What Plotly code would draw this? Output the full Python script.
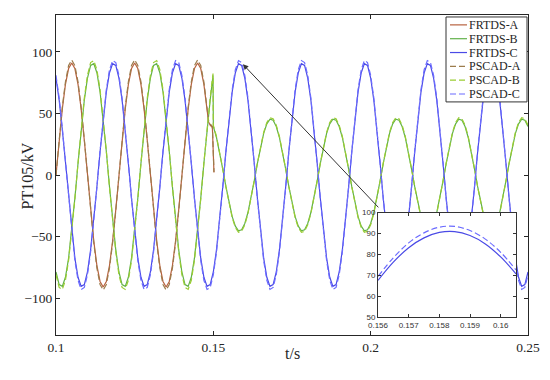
import plotly.graph_objects as go

# ---------------- data ----------------
# sample times in ms
tA_ms = list(range(100, 149)) + [148.5, 149.0, 149.7, 150.2]
tB_ms = list(range(100, 150)) + [149.9] + list(range(150, 251))
tC_ms = list(range(100, 251))

frtds_a = [
    0.0, 28.1, 53.5, 73.6, 86.5, 91.0, 86.5, 73.6, 53.5, 28.1, 0.0, -28.1, -53.5, -73.6, -86.5, -91.0, -86.5, -73.6, -53.5, -28.1,
    0.0, 28.1, 53.5, 73.6, 86.5, 91.0, 86.5, 73.6, 53.5, 28.1, 0.0, -28.1, -53.5, -73.6, -86.5, -91.0, -86.5, -73.6, -53.5, -28.1,
    0.0, 28.1, 53.5, 73.6, 86.5, 91.0, 86.5, 73.6, 53.5,
    43.0, 40.5, 38.5, 2.0]
pscad_a = [
    0.0, 28.9, 55.0, 75.6, 88.9, 93.5, 88.9, 75.6, 55.0, 28.9, 0.0, -28.9, -55.0, -75.6, -88.9, -93.5, -88.9, -75.6, -55.0, -28.9,
    0.0, 28.9, 55.0, 75.6, 88.9, 93.5, 88.9, 75.6, 55.0, 28.9, 0.0, -28.9, -55.0, -75.6, -88.9, -93.5, -88.9, -75.6, -55.0, -28.9,
    0.0, 28.9, 55.0, 75.6, 88.9, 93.5, 88.9, 75.6, 55.0,
    44.0, 41.5, 39.5, 2.5]

frtds_b = [
    -78.8, -89.0, -90.5, -83.1, -67.6, -45.5, -18.9, 9.5, 37.0, 60.9, 78.8, 89.0, 90.5, 83.1, 67.6, 45.5, 18.9, -9.5, -37.0, -60.9,
    -78.8, -89.0, -90.5, -83.1, -67.6, -45.5, -18.9, 9.5, 37.0, 60.9, 78.8, 89.0, 90.5, 83.1, 67.6, 45.5, 18.9, -9.5, -37.0, -60.9,
    -78.8, -89.0, -90.5, -83.1, -67.6, -45.5, -18.9, 9.5, 37.0, 60.9,
    81.0,
    39.4, 30.5, 18.5, 4.8, -9.5, -22.8, -33.8, -41.6, -45.3, -44.5,
    -39.4, -30.5, -18.5, -4.8, 9.5, 22.8, 33.8, 41.6, 45.3, 44.5, 39.4, 30.5, 18.5, 4.8, -9.5, -22.8, -33.8, -41.6, -45.3, -44.5,
    -39.4, -30.5, -18.5, -4.8, 9.5, 22.8, 33.8, 41.6, 45.3, 44.5, 39.4, 30.5, 18.5, 4.8, -9.5, -22.8, -33.8, -41.6, -45.3, -44.5,
    -39.4, -30.5, -18.5, -4.8, 9.5, 22.8, 33.8, 41.6, 45.3, 44.5, 39.4, 30.5, 18.5, 4.8, -9.5, -22.8, -33.8, -41.6, -45.3, -44.5,
    -39.4, -30.5, -18.5, -4.8, 9.5, 22.8, 33.8, 41.6, 45.3, 44.5, 39.4, 30.5, 18.5, 4.8, -9.5, -22.8, -33.8, -41.6, -45.3, -44.5,
    -39.4, -30.5, -18.5, -4.8, 9.5, 22.8, 33.8, 41.6, 45.3, 44.5, 39.4]
pscad_b = [
    -81.0, -91.4, -93.0, -85.5, -69.5, -46.8, -19.4, 9.8, 38.1, 62.6, 81.0, 91.4, 93.0, 85.5, 69.5, 46.8, 19.4, -9.8, -38.1, -62.6,
    -81.0, -91.4, -93.0, -85.5, -69.5, -46.8, -19.4, 9.8, 38.1, 62.6, 81.0, 91.4, 93.0, 85.5, 69.5, 46.8, 19.4, -9.8, -38.1, -62.6,
    -81.0, -91.4, -93.0, -85.5, -69.5, -46.8, -19.4, 9.8, 38.1, 62.6,
    82.5,
    40.5, 31.3, 19.0, 4.9, -9.7, -23.4, -34.7, -42.7, -46.5, -45.7,
    -40.5, -31.3, -19.0, -4.9, 9.7, 23.4, 34.7, 42.7, 46.5, 45.7, 40.5, 31.3, 19.0, 4.9, -9.7, -23.4, -34.7, -42.7, -46.5, -45.7,
    -40.5, -31.3, -19.0, -4.9, 9.7, 23.4, 34.7, 42.7, 46.5, 45.7, 40.5, 31.3, 19.0, 4.9, -9.7, -23.4, -34.7, -42.7, -46.5, -45.7,
    -40.5, -31.3, -19.0, -4.9, 9.7, 23.4, 34.7, 42.7, 46.5, 45.7, 40.5, 31.3, 19.0, 4.9, -9.7, -23.4, -34.7, -42.7, -46.5, -45.7,
    -40.5, -31.3, -19.0, -4.9, 9.7, 23.4, 34.7, 42.7, 46.5, 45.7, 40.5, 31.3, 19.0, 4.9, -9.7, -23.4, -34.7, -42.7, -46.5, -45.7,
    -40.5, -31.3, -19.0, -4.9, 9.7, 23.4, 34.7, 42.7, 46.5, 45.7, 40.5]

frtds_c = [
    78.8, 60.9, 37.0, 9.5, -18.9, -45.5, -67.6, -83.1, -90.5, -89.0, -78.8, -60.9, -37.0, -9.5, 18.9, 45.5, 67.6, 83.1, 90.5, 89.0,
    78.8, 60.9, 37.0, 9.5, -18.9, -45.5, -67.6, -83.1, -90.5, -89.0, -78.8, -60.9, -37.0, -9.5, 18.9, 45.5, 67.6, 83.1, 90.5, 89.0,
    78.8, 60.9, 37.0, 9.5, -18.9, -45.5, -67.6, -83.1, -90.5, -89.0, -78.8, -60.9, -37.0, -9.5, 18.9, 45.5, 67.6, 83.1, 90.5, 89.0,
    78.8, 60.9, 37.0, 9.5, -18.9, -45.5, -67.6, -83.1, -90.5, -89.0, -78.8, -60.9, -37.0, -9.5, 18.9, 45.5, 67.6, 83.1, 90.5, 89.0,
    78.8, 60.9, 37.0, 9.5, -18.9, -45.5, -67.6, -83.1, -90.5, -89.0, -78.8, -60.9, -37.0, -9.5, 18.9, 45.5, 67.6, 83.1, 90.5, 89.0,
    78.8, 60.9, 37.0, 9.5, -18.9, -45.5, -67.6, -83.1, -90.5, -89.0, -78.8, -60.9, -37.0, -9.5, 18.9, 45.5, 67.6, 83.1, 90.5, 89.0,
    78.8, 60.9, 37.0, 9.5, -18.9, -45.5, -67.6, -83.1, -90.5, -89.0, -78.8, -60.9, -37.0, -9.5, 18.9, 45.5, 67.6, 83.1, 90.5, 89.0,
    78.8, 60.9, 37.0, 9.5, -18.9, -45.5, -67.6, -83.1, -90.5, -89.0, -78.8]
pscad_c = [
    81.0, 62.6, 38.1, 9.8, -19.4, -46.8, -69.5, -85.5, -93.0, -91.4, -81.0, -62.6, -38.1, -9.8, 19.4, 46.8, 69.5, 85.5, 93.0, 91.4,
    81.0, 62.6, 38.1, 9.8, -19.4, -46.8, -69.5, -85.5, -93.0, -91.4, -81.0, -62.6, -38.1, -9.8, 19.4, 46.8, 69.5, 85.5, 93.0, 91.4,
    81.0, 62.6, 38.1, 9.8, -19.4, -46.8, -69.5, -85.5, -93.0, -91.4, -81.0, -62.6, -38.1, -9.8, 19.4, 46.8, 69.5, 85.5, 93.0, 91.4,
    81.0, 62.6, 38.1, 9.8, -19.4, -46.8, -69.5, -85.5, -93.0, -91.4, -81.0, -62.6, -38.1, -9.8, 19.4, 46.8, 69.5, 85.5, 93.0, 91.4,
    81.0, 62.6, 38.1, 9.8, -19.4, -46.8, -69.5, -85.5, -93.0, -91.4, -81.0, -62.6, -38.1, -9.8, 19.4, 46.8, 69.5, 85.5, 93.0, 91.4,
    81.0, 62.6, 38.1, 9.8, -19.4, -46.8, -69.5, -85.5, -93.0, -91.4, -81.0, -62.6, -38.1, -9.8, 19.4, 46.8, 69.5, 85.5, 93.0, 91.4,
    81.0, 62.6, 38.1, 9.8, -19.4, -46.8, -69.5, -85.5, -93.0, -91.4, -81.0, -62.6, -38.1, -9.8, 19.4, 46.8, 69.5, 85.5, 93.0, 91.4,
    81.0, 62.6, 38.1, 9.8, -19.4, -46.8, -69.5, -85.5, -93.0, -91.4, -81.0]

# zoomed inset (phase C around its peak)
inset_t = [0.1560, 0.1565, 0.1570, 0.1575, 0.1580, 0.1585, 0.1590, 0.1595, 0.1600, 0.1605]
inset_frtds_c = [67.6, 76.3, 83.2, 87.9, 90.5, 90.9, 89.0, 85.0, 78.8, 70.7]
inset_pscad_c = [69.5, 78.4, 85.5, 90.3, 93.0, 93.4, 91.4, 87.3, 81.0, 72.6]

series_names = ["FRTDS-A", "FRTDS-B", "FRTDS-C", "PSCAD-A", "PSCAD-B", "PSCAD-C"]
x_ticks = [0.1, 0.15, 0.2, 0.25]
x_tick_text = ["0.1", "0.15", "0.2", "0.25"]
y_ticks = [-100, -50, 0, 50, 100]
inset_x_ticks = [0.156, 0.157, 0.158, 0.159, 0.16]
inset_x_text = ["0.156", "0.157", "0.158", "0.159", "0.16"]
inset_y_ticks = [50, 60, 70, 80, 90, 100]

assert len(tA_ms) == len(frtds_a) == len(pscad_a)
assert len(tB_ms) == len(frtds_b) == len(pscad_b)
assert len(tC_ms) == len(frtds_c) == len(pscad_c)

# ---------------- styling ----------------
colors = {
    "FRTDS-A": "#b8623f", "FRTDS-B": "#62b14a", "FRTDS-C": "#4a4ae6",
    "PSCAD-A": "#9c7c4c", "PSCAD-B": "#9acd32", "PSCAD-C": "#6b6bff",
}
DASH = "6px,3px"
SERIF = "Liberation Serif"
AXC = "#262626"

tA = [v / 1000 for v in tA_ms]
tB = [v / 1000 for v in tB_ms]
tC = [v / 1000 for v in tC_ms]

fig = go.Figure()
main = [
    ("FRTDS-A", tA, frtds_a, "solid"),
    ("FRTDS-B", tB, frtds_b, "solid"),
    ("FRTDS-C", tC, frtds_c, "solid"),
    ("PSCAD-A", tA, pscad_a, DASH),
    ("PSCAD-B", tB, pscad_b, DASH),
    ("PSCAD-C", tC, pscad_c, DASH),
]
for name, xs, ys, dash in main:
    fig.add_trace(go.Scatter(x=xs, y=ys, mode="lines", name=name, showlegend=False,
                             line=dict(color=colors[name], width=1.2, dash=dash),
                             xaxis="x", yaxis="y"))

fig.add_trace(go.Scatter(x=inset_t, y=inset_frtds_c, mode="lines", showlegend=False,
                         line=dict(color=colors["FRTDS-C"], width=1.2, shape="spline"),
                         xaxis="x2", yaxis="y2"))
fig.add_trace(go.Scatter(x=inset_t, y=inset_pscad_c, mode="lines", showlegend=False,
                         line=dict(color=colors["PSCAD-C"], width=1.2, shape="spline", dash=DASH),
                         xaxis="x2", yaxis="y2"))

# window pixel positions of the plot area (the page body adds an 8px offset)
OFF = 8
L, R, T, B = 56, 528, 11, 335
def px(x):
    return (x - L) / (R - L)
def py(y):
    return (B - y) / (B - T)

fig.update_layout(
    width=550, height=380,
    margin=dict(l=L - OFF, r=550 - (R - OFF), t=T - OFF, b=380 - (B - OFF)),
    paper_bgcolor="white", plot_bgcolor="white",
    font=dict(family=SERIF, size=13, color=AXC),
    xaxis=dict(domain=[0, 1], range=[0.1, 0.25], tickvals=x_ticks, ticktext=x_tick_text,
               ticks="inside", ticklen=4, tickcolor=AXC, showline=True, linecolor=AXC,
               linewidth=1, mirror="ticks", showgrid=False, zeroline=False,
               tickfont=dict(family=SERIF, size=13.5, color=AXC)),
    yaxis=dict(domain=[0, 1], range=[-130, 130], tickvals=y_ticks,
               ticks="inside", ticklen=4, tickcolor=AXC, showline=True, linecolor=AXC,
               linewidth=1, mirror="ticks", showgrid=False, zeroline=False,
               tickfont=dict(family=SERIF, size=13.5, color=AXC)),
    xaxis2=dict(domain=[px(378), px(516)], anchor="y2", range=[0.156, 0.1605],
                tickvals=inset_x_ticks, ticktext=inset_x_text,
                ticks="inside", ticklen=3, tickcolor="#333", showline=True, linecolor="#333",
                linewidth=1, mirror="ticks", showgrid=False, zeroline=False,
                tickfont=dict(family="Liberation Sans", size=8, color="#333")),
    yaxis2=dict(domain=[py(317), py(211)], anchor="x2", range=[50, 100],
                tickvals=inset_y_ticks,
                ticks="inside", ticklen=3, tickcolor="#333", showline=True, linecolor="#333",
                linewidth=1, mirror="ticks", showgrid=False, zeroline=False,
                tickfont=dict(family="Liberation Sans", size=8, color="#333")),
)

annotations = []
shapes = []
# axis titles
annotations.append(dict(text="t/s", xref="paper", yref="paper", x=px(292), y=py(364),
                        showarrow=False, font=dict(family=SERIF, size=16, color=AXC)))
annotations.append(dict(text="PT105/kV", xref="paper", yref="paper", x=px(17), y=py(174),
                        textangle=-90, showarrow=False, font=dict(family=SERIF, size=16, color=AXC)))
# arrow from inset to the zoomed peak
annotations.append(dict(x=0.1594, y=90, xref="x", yref="y", ax=0.2029, ay=-27.5,
                        axref="x", ayref="y", showarrow=True, arrowhead=2, arrowsize=1.1,
                        arrowwidth=1, arrowcolor="#333", text=""))

# manual legend
shapes.append(dict(type="rect", xref="paper", yref="paper", x0=px(446), x1=px(527),
                   y0=py(99), y1=py(13), fillcolor="white", line=dict(color="#333", width=1),
                   layer="above"))
for i, name in enumerate(series_names):
    yc = 21 + 14 * i
    dash = "solid" if name.startswith("FRTDS") else DASH
    shapes.append(dict(type="line", xref="paper", yref="paper", x0=px(450), x1=px(467),
                       y0=py(yc), y1=py(yc), line=dict(color=colors[name], width=1.2, dash=dash),
                       layer="above"))
    annotations.append(dict(text=name, xref="paper", yref="paper", x=px(468), y=py(yc),
                            xanchor="left", yanchor="middle", showarrow=False, borderpad=0,
                            font=dict(family=SERIF, size=12, color=AXC)))

fig.update_layout(annotations=annotations, shapes=shapes)
fig.write_html("out.html")
